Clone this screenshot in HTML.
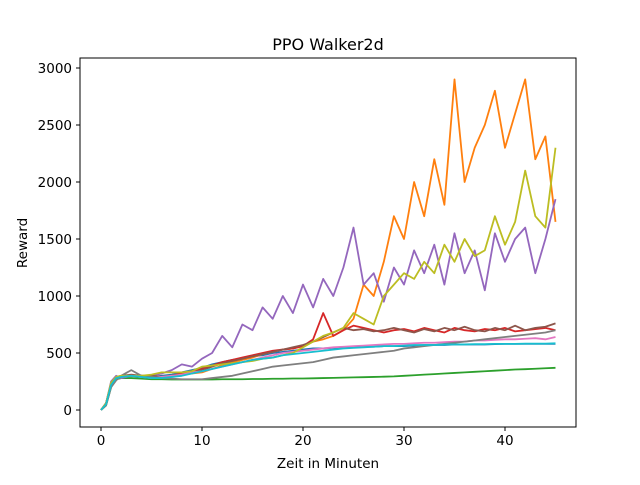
<!DOCTYPE html>
<html><head><meta charset="utf-8"><style>
body{margin:0;background:#fff}
svg{font-family:"DejaVu Sans","Liberation Sans",sans-serif}
</style></head><body>
<svg id="c" width="640" height="480">
<rect width="640" height="480" fill="#fff"/>
<text x="328" y="50" font-size="16" text-anchor="middle">PPO Walker2d</text>
<text x="328" y="468" font-size="13.5" text-anchor="middle">Zeit in Minuten</text>
<text x="0" y="0" font-size="13.5" text-anchor="middle" transform="translate(27,243) rotate(-90)">Reward</text>
<g id="plot"></g>
<rect x="80" y="58" width="496" height="369" fill="none" stroke="#000" stroke-width="1"/>
</svg>
<script>
const xTicks=[0,10,20,30,40];
const yTicks=[0,500,1000,1500,2000,2500,3000];
const seriesNames=["blue","orange","green","red","purple","brown","pink","gray","olive","cyan"];
const colors=["#1f77b4","#ff7f0e","#2ca02c","#d62728","#9467bd","#8c564b","#e377c2","#7f7f7f","#bcbd22","#17becf"];
const xs1=[0,0.5,1,1.5,2,3,4,5,6,7,8,9,10,11,12,13,14,15,16,17,18,19,20,21,22,23,24,25,26,27,28,29,30,31,32,33,34,35,36,37,38,39,40,41,42,43,44,45];
const blueY=[0,60,220,280,290,300,300,290,300,310,330,350,370,400,420,440,450,470,480,500,510,520,530,540,540,545,550,550,555,555,560,560,560,565,570,570,570,575,575,575,575,578,580,580,580,580,580,580];
const orangeY=[0,50,230,290,300,300,300,300,290,300,310,320,330,360,390,420,440,460,490,510,530,540,560,600,620,650,700,800,1100,1000,1300,1700,1500,2000,1700,2200,1800,2900,2000,2300,2500,2800,2300,2600,2900,2200,2400,1650];
const greenY=[0,40,200,270,280,280,275,270,270,268,268,268,268,268,270,270,270,272,272,274,274,276,276,278,280,282,284,286,288,290,292,295,300,305,310,315,320,325,330,335,340,345,350,355,358,362,366,370];
const redY=[0,60,230,280,290,300,300,290,290,300,320,340,360,390,420,440,460,480,500,520,530,540,560,620,850,650,700,740,720,700,680,700,710,690,720,700,680,720,700,690,710,700,720,690,700,710,720,700];
const purpleY=[0,60,250,300,280,300,290,300,320,350,400,380,450,500,650,550,750,700,900,800,1000,850,1100,900,1150,1000,1250,1600,1100,1200,950,1250,1100,1400,1200,1450,1100,1550,1200,1400,1050,1550,1300,1500,1600,1200,1500,1850];
const brownY=[0,50,220,280,300,310,300,300,290,300,310,330,350,380,410,430,450,470,490,510,530,550,570,600,640,680,720,700,710,690,700,720,700,680,710,690,720,700,730,700,690,720,700,740,700,720,730,760];
const pinkY=[0,50,210,270,290,300,290,280,290,300,310,330,340,360,380,400,420,440,460,480,500,510,520,530,540,550,555,560,565,570,575,580,580,585,590,590,595,600,600,610,610,615,620,620,625,630,620,640];
const grayY=[0,40,200,260,300,350,300,290,280,275,270,270,270,280,290,300,320,340,360,380,390,400,410,420,440,460,470,480,490,500,510,520,540,550,560,570,580,590,600,610,620,630,640,650,660,670,680,700];
const oliveY=[0,60,240,290,300,300,300,310,330,330,330,340,380,390,400,410,420,430,450,460,480,500,550,600,650,680,720,850,800,750,1000,1100,1200,1150,1300,1200,1450,1300,1500,1350,1400,1700,1450,1650,2100,1700,1600,2300];
const cyanY=[0,50,220,280,290,300,290,280,280,290,300,320,340,360,380,400,420,440,450,460,480,490,500,510,520,530,540,545,550,555,560,560,565,570,570,570,575,575,575,578,578,580,580,580,582,582,582,585];
const allY=[blueY,orangeY,greenY,redY,purpleY,brownY,pinkY,grayY,oliveY,cyanY];
const X=v=>101+v*10.1, Y=v=>410-v*0.114;
const ns="http://www.w3.org/2000/svg", g=document.getElementById("plot");
xTicks.forEach(t=>{
 const l=document.createElementNS(ns,"line");l.setAttribute("x1",X(t));l.setAttribute("x2",X(t));l.setAttribute("y1",427);l.setAttribute("y2",431);l.setAttribute("stroke","#000");
 
 
 g.appendChild(l);
 const tx=document.createElementNS(ns,"text");tx.setAttribute("x",X(t));tx.setAttribute("y",445);tx.setAttribute("font-size","13.5");tx.setAttribute("text-anchor","middle");tx.textContent=t;
 
 
 g.appendChild(tx);
});
yTicks.forEach(t=>{
 const l=document.createElementNS(ns,"line");l.setAttribute("x1",76);l.setAttribute("x2",80);l.setAttribute("y1",Y(t));l.setAttribute("y2",Y(t));l.setAttribute("stroke","#000");
 
 
 g.appendChild(l);
 const tx=document.createElementNS(ns,"text");tx.setAttribute("x",72);tx.setAttribute("y",Y(t)+5);tx.setAttribute("font-size","13.5");tx.setAttribute("text-anchor","end");tx.textContent=t;
 
 
 g.appendChild(tx);
});
allY.forEach((ys,i)=>{
 const p=document.createElementNS(ns,"polyline");
 p.setAttribute("points",ys.map((v,j)=>X(xs1[j])+","+Y(v)).join(" "));
 p.setAttribute("fill","none");p.setAttribute("stroke",colors[i]);p.setAttribute("stroke-width","1.8");p.setAttribute("stroke-linejoin","round");
 
 
 g.appendChild(p);
});
</script>
</body></html>
